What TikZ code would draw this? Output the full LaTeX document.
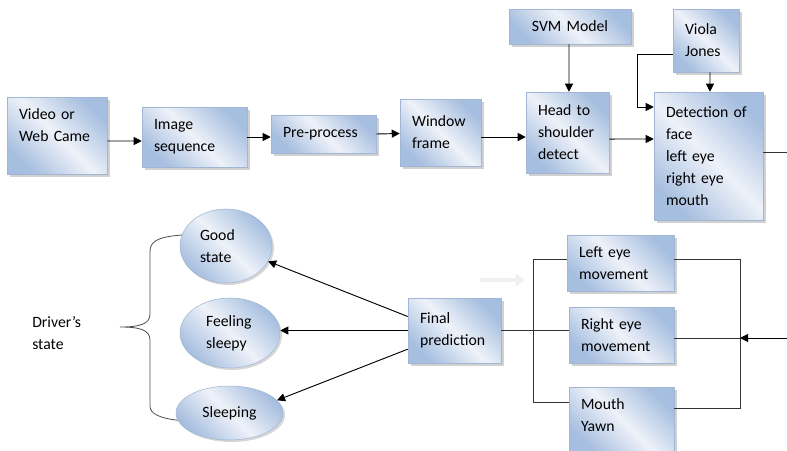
\documentclass[tikz,border=0pt]{standalone}
\usepackage{fontspec}
\setmainfont{Carlito}
\usetikzlibrary{arrows.meta,shapes.geometric,shadows}

\definecolor{boxedge}{RGB}{166,190,223}
\definecolor{boxlight}{RGB}{238,242,249}
\definecolor{boxline}{RGB}{160,182,212}

\begin{document}
\begin{tikzpicture}[x=0.75pt, y=-0.75pt,
    font=\fontsize{11.8pt}{16.5pt}\selectfont,
    box/.style={
        rectangle,
        draw=boxline, line width=0.4pt,
        top color=boxedge, bottom color=boxedge, middle color=boxlight,
        shading angle=-45,
        drop shadow={shadow xshift=2pt, shadow yshift=-2pt, fill=black!45, opacity=0.4},
        align=left,
        inner xsep=9pt, inner ysep=0pt},
    oval/.style={
        ellipse,
        draw=boxline, line width=0.4pt,
        top color=boxedge, bottom color=boxedge, middle color=boxlight,
        shading angle=-45,
        drop shadow={shadow xshift=1.5pt, shadow yshift=-1.5pt, fill=black!45, opacity=0.35},
        align=left,
        inner sep=0pt},
    arrow/.style={
        line width=0.7pt,
        -{Triangle[length=6pt,width=6pt]}},
    link/.style={
        line width=0.6pt,
        draw=black!80},
    brace/.style={
        line width=0.6pt,
        draw=black!70},
    ghost/.style={
        line width=3pt,
        draw=black!6,
        -{Triangle[length=7pt,width=10pt]}}
    ]

    \useasboundingbox (0,0) rectangle (787,450);

    % top row
    \node (video) [box, text width=57pt, minimum height=57.75pt, text depth=31.5pt] at (57,135.5) {Video or\\Web Came};
    \node (imgseq) [box, text width=60.75pt, minimum height=45pt] at (194.5,137) {Image\\sequence};
    \node (preproc) [box, text width=60.75pt, minimum height=28.5pt] at (323.5,134) {Pre-process};
    \node (window) [box, text width=42.75pt, minimum height=50.25pt] at (440.5,132.5) {Window\\frame};
    \node (head) [box, text width=44.25pt, minimum height=60.75pt] at (567.5,132.5) {Head to\\shoulder\\detect};
    \node (svm) [box, align=center, text width=73.5pt, minimum height=26.25pt] at (570,26.5) {SVM Model};
    \node (viola) [box, text width=31.5pt, minimum height=47.25pt] at (706,40.5) {Viola\\Jones};
    \node (detect) [box, text width=63.75pt, minimum height=96pt] at (708.5,156) {Detection~of\\face\\left eye\\right eye\\mouth};

    % bottom row
    \node (lefteye) [box, text width=62.25pt, minimum height=42pt] at (620.5,263) {Left eye\\movement};
    \node (righteye) [box, text width=60.75pt, minimum height=42pt] at (621.5,335) {Right eye\\movement};
    \node (mouth) [box, text width=60.75pt, minimum height=48.75pt, text depth=23.3pt] at (621.5,419.5) {Mouth\\Yawn};
    \node (final) [box, text width=51.75pt, minimum height=48.75pt] at (454.5,330.5) {Final\\prediction};

    \node (good) [oval, text width=39pt, minimum width=69pt, minimum height=55.5pt] at (226,246) {Good\\state};
    \node (feeling) [oval, text width=36pt, minimum width=75pt, minimum height=52.5pt] at (230,333) {Feeling\\sleepy};
    \node (sleeping) [oval, minimum width=80.25pt, minimum height=40.5pt] at (229.5,413) {Sleeping};
    \node (driver) [anchor=west, align=left, inner sep=0pt] at (32,333) {Driver’s\\state};

    \coordinate (outR) at (795,152);
    \coordinate (inR) at (795,338);
    \coordinate (rbus) at (740,338);
    \coordinate (lbus) at (533,331);
    \coordinate (tip) at (120,327);
    \coordinate (ghostA) at (480,280);
    \coordinate (ghostB) at (525,280);

    \draw [arrow] ([yshift=-4.1pt]video.east) -- ([yshift=-3pt]imgseq.west);
    \draw [arrow] (imgseq.east) -- ([yshift=-2.25pt]preproc.west);
    \draw [arrow] (preproc.east) -- ([yshift=-0.75pt]window.west);
    \draw [arrow] ([yshift=-3.4pt]window.east) -- ([yshift=-3.4pt]head.west);
    \draw [arrow] ([yshift=-4.9pt]head.east) -- ([yshift=12.75pt]detect.west);
    \draw [arrow] ([xshift=-0.75pt]svm.south) -- ([xshift=1.1pt]head.north);
    \draw [arrow] ([xshift=3pt]viola.south) -- ([xshift=1.1pt]detect.north);
    \draw [arrow] ([yshift=-10.1pt]viola.west) -- ++(-35,0) |- ([yshift=36.75pt]detect.west);
    \draw [link] ([yshift=3pt]detect.east) -- (outR);

    \draw [link] ([yshift=3pt]lefteye.east) -| (rbus) |- ([yshift=8.6pt]mouth.east);
    \draw [link] (righteye.east |- rbus) -- (rbus);
    \draw [arrow] (inR) -- (rbus);
    \draw [link] ([yshift=3pt]lefteye.west) -| (lbus) |- ([yshift=13.1pt]mouth.west);
    \draw [link] (final.east) -- (final.east -| righteye.west);
    \draw [ghost] (ghostA) -- (ghostB);

    \draw [arrow] ([yshift=10.5pt]final.west) -- (good.-20);
    \draw [arrow] (final.west) -- (final.west -| feeling.east);
    \draw [arrow] ([yshift=-14pt]final.west) -- (sleeping.15);

    \draw [brace] (good.166) .. controls (156,237) and (150,242) .. (150,252) -- (150,314)
        .. controls (150,324) and (140,327) .. (tip)
        .. controls (140,327) and (150,330) .. (150,340) -- (150,406)
        .. controls (150,414) and (160,418) .. (sleeping.188);

\end{tikzpicture}
\end{document}
